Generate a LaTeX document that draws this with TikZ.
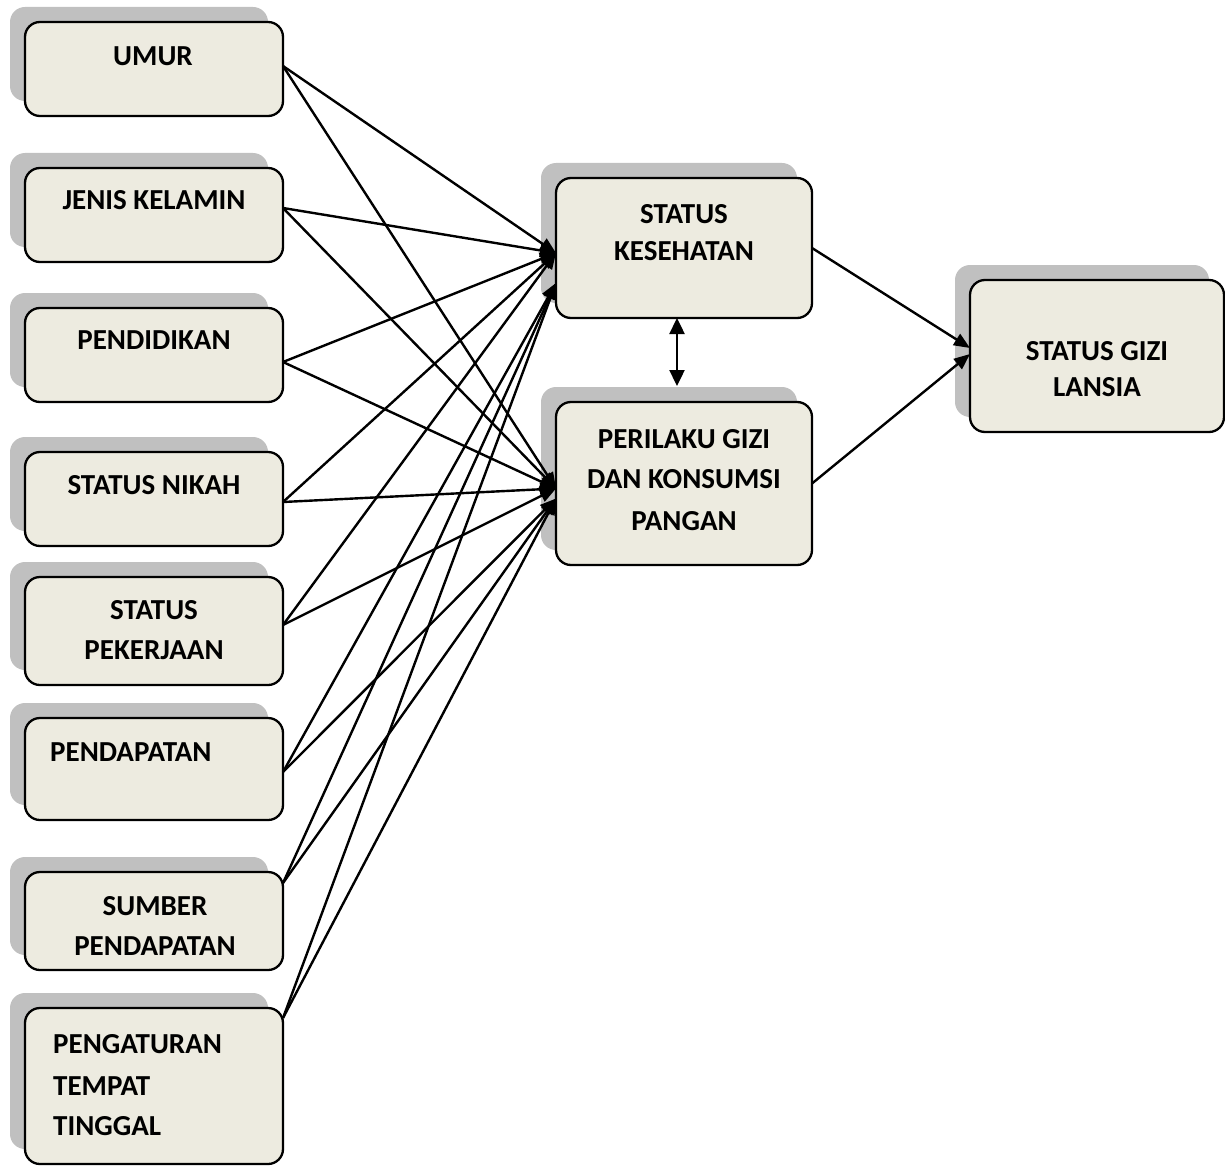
\documentclass[tikz,border=0pt]{standalone}
\usepackage{fontspec}
\setmainfont{Carlito}
\usetikzlibrary{arrows.meta,shadows}
\definecolor{boxfill}{RGB}{237,235,224}
\definecolor{shadowgray}{RGB}{192,192,192}
\begin{document}
\begin{tikzpicture}[x=1pt,y=-1pt,
  box/.style={draw=black, line width=2.3pt, fill=boxfill, rounded corners=15pt,
    inner sep=0pt, outer sep=0pt,
    drop shadow={shadow xshift=-15pt, shadow yshift=15pt, fill=shadowgray, opacity=1}},
  leftbox/.style={box, minimum width=258pt},
  midbox/.style={box, minimum width=256pt},
  txt/.style={font=\fontsize{29}{34}\selectfont\bfseries, inner sep=0pt},
  link/.style={line width=2.4pt, -{Triangle[length=16pt,width=13pt]}},
  both/.style={line width=2.4pt, {Triangle[length=16pt,width=15pt]}-{Triangle[length=16pt,width=15pt]}}]
\useasboundingbox (0,0) rectangle (1225,1166);

% factor boxes on the left
\node[leftbox, minimum height=94pt]  (umur)   at (154,69)   {};
\node[leftbox, minimum height=94pt]  (jenis)  at (154,215)  {};
\node[leftbox, minimum height=94pt]  (didik)  at (154,355)  {};
\node[leftbox, minimum height=94pt]  (nikah)  at (154,499)  {};
\node[leftbox, minimum height=108pt] (kerja)  at (154,631)  {};
\node[leftbox, minimum height=102pt] (dapat)  at (154,769)  {};
\node[leftbox, minimum height=98pt]  (sumber) at (154,921)  {};
\node[leftbox, minimum height=156pt] (tempat) at (154,1086) {};

% intermediate and outcome boxes
\node[midbox, minimum height=140pt] (kes) at (684,248) {};
\node[midbox, minimum height=163pt] (per) at (684,483.5) {};
\node[box, minimum width=254pt, minimum height=152pt] (gizi) at (1097,356) {};

% labels
\node[txt] (t-umur) at (153,56) {UMUR};
\node[txt] (t-jenis) at (154,200) {JENIS KELAMIN};
\node[txt] (t-didik) at (154,340) {PENDIDIKAN};
\node[txt] (t-nikah) at (154,485) {STATUS NIKAH};
\node[txt] (t-kerja1) at (154,610) {STATUS};
\node[txt] (t-kerja2) at (154,650) {PEKERJAAN};
\node[txt, anchor=west] (t-dapat) at (50,752) {PENDAPATAN};
\node[txt] (t-sumber1) at (155,906) {SUMBER};
\node[txt] (t-sumber2) at (155,946) {PENDAPATAN};
\node[txt, anchor=west] (t-tempat1) at (53,1044) {PENGATURAN};
\node[txt, anchor=west] (t-tempat2) at (53,1086) {TEMPAT};
\node[txt, anchor=west] (t-tempat3) at (53,1126) {TINGGAL};
\node[txt] (t-kes1) at (684,214) {STATUS};
\node[txt] (t-kes2) at (684,251) {KESEHATAN};
\node[txt] (t-per1) at (684,439) {PERILAKU GIZI};
\node[txt] (t-per2) at (684,479) {DAN KONSUMSI};
\node[txt] (t-per3) at (684,521) {PANGAN};
\node[txt] (t-gizi1) at (1097,351) {STATUS GIZI};
\node[txt] (t-gizi2) at (1097,387) {LANSIA};

% each factor points to both intermediate boxes
\foreach \src/\dy in {umur/3, jenis/7, didik/-7, nikah/-3, kerja/6}{
  \draw[link] ([yshift=\dy pt]\src.east) -- ([yshift=-5pt]kes.west);
  \draw[link] ([yshift=\dy pt]\src.east) -- ([yshift=-5pt]per.west);
}
\foreach \src/\dy in {dapat/-3, sumber/38, tempat/68}{
  \draw[link] ([yshift=\dy pt]\src.east) -- ([yshift=-35pt]kes.west);
  \draw[link] ([yshift=\dy pt]\src.east) -- ([yshift=-15pt]per.west);
}

% mutual link and the paths to the outcome
\draw[both] ([xshift=-7pt]kes.south) -- ([xshift=-7pt,yshift=16pt]per.north);
\draw[link] (kes.east) -- ([yshift=8pt]gizi.west);
\draw[link] (per.east) -- ([yshift=2pt]gizi.west);
\end{tikzpicture}
\end{document}
